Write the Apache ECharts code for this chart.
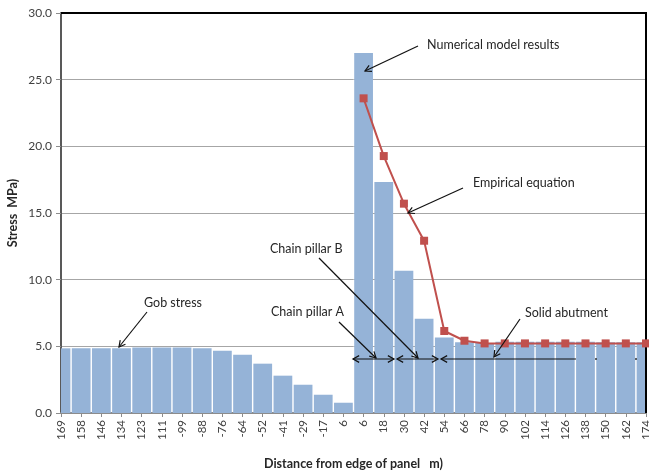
<!DOCTYPE html>
<html>
<head>
<meta charset="utf-8">
<script src="https://cdn.jsdelivr.net/npm/echarts@6/dist/echarts.min.js"></script>
<style>
  html, body { margin: 0; padding: 0; background: #ffffff; }
  #chart { width: 649px; height: 472px; }
</style>
</head>
<body>
<div id="chart"></div>
<script>
// Distance labels along the section (m)
const categories = ['169', '158', '146', '134', '123', '111', '-99', '-88', '-76', '-64',
  '-52', '-41', '-29', '-17', '6', '6', '18', '30', '42', '54',
  '66', '78', '90', '102', '114', '126', '138', '150', '162', '174'];

// Vertical stress from the numerical model (MPa)
const numericalStress = [4.85, 4.85, 4.85, 4.85, 4.92, 4.92, 4.92, 4.85, 4.67, 4.37,
  3.70, 2.80, 2.12, 1.37, 0.77, 27.0, 17.33, 10.67, 7.07, 5.67,
  5.30, 5.25, 5.35, 5.35, 5.35, 5.35, 5.35, 5.30, 5.30, 5.30];

// Stress from the empirical equation (MPa), defined from the pillar edge onwards
const empiricalStress = [null, null, null, null, null, null, null, null, null, null,
  null, null, null, null, null, 23.6, 19.27, 15.7, 12.92, 6.15,
  5.42, 5.22, 5.22, 5.22, 5.22, 5.22, 5.22, 5.22, 5.22, 5.22];

const FONT = 'Lato, "Liberation Sans", sans-serif';
const INK = '#262626';

const chart = echarts.init(document.getElementById('chart'), null, { renderer: 'canvas' });

// Open "V" arrowhead at (x, y) for a shaft coming from (fx, fy)
function arrowHead(x, y, fx, fy, len, spread) {
  const a = Math.atan2(y - fy, x - fx);
  return [
    [x - len * Math.cos(a - spread), y - len * Math.sin(a - spread)],
    [x, y],
    [x - len * Math.cos(a + spread), y - len * Math.sin(a + spread)]
  ];
}

function arrow(x1, y1, x2, y2, both) {
  const style = { stroke: '#111', lineWidth: 1.2, fill: null };
  const els = [
    { type: 'line', shape: { x1, y1, x2, y2 }, style, z: 30 },
    { type: 'polyline', shape: { points: arrowHead(x2, y2, x1, y1, 7, 0.5) }, style, z: 30 }
  ];
  if (both) {
    els.push({ type: 'polyline', shape: { points: arrowHead(x1, y1, x2, y2, 7, 0.5) }, style, z: 30 });
  }
  return els;
}

function note(text, x, y) {
  return {
    type: 'text', x, y, z: 30,
    style: { text, fill: INK, font: '12.5px ' + FONT, textVerticalAlign: 'middle', textAlign: 'left' }
  };
}

const annotations = [].concat(
  note('Numerical model results', 427, 45),
  arrow(418, 46, 365, 71),
  note('Empirical equation', 473, 183),
  arrow(463, 188, 408, 213),
  note('Chain pillar B', 270, 249),
  arrow(319, 258, 418, 358),
  note('Chain pillar A', 271, 312),
  arrow(339, 322, 376, 358),
  note('Solid abutment', 525, 313),
  arrow(520, 319, 494, 357),
  note('Gob stress', 144, 303),
  arrow(147, 312, 119, 347),
  // spans of the two chain pillars and the solid abutment
  arrow(353, 359, 394, 359, true),
  arrow(397, 359, 438, 359, true),
  arrow(576, 359, 441, 359),
  [{ type: 'line', shape: { x1: 595, y1: 359, x2: 597, y2: 359 }, style: { stroke: '#333', lineWidth: 1.5 }, z: 30 },
   { type: 'line', shape: { x1: 635, y1: 359, x2: 637, y2: 359 }, style: { stroke: '#333', lineWidth: 1.5 }, z: 30 }],
  // top and right frame of the plot area
  [{ type: 'line', shape: { x1: 61, y1: 13, x2: 647, y2: 13 }, style: { stroke: '#000', lineWidth: 2 }, z: 10 },
   { type: 'line', shape: { x1: 646, y1: 13, x2: 646, y2: 413 }, style: { stroke: '#000', lineWidth: 2 }, z: 10 }]
);

// Bars centred on the category ticks, trimmed to the plot rectangle so the
// first and last columns show as half columns at the frame edges.
function renderColumn(params, api) {
  const idx = api.value(0);
  const val = api.value(1);
  const top = api.coord([idx, val]);
  const base = api.coord([idx, 0]);
  const w = api.size([1, 0])[0] * 0.93;
  const cs = params.coordSys;
  const shape = echarts.graphic.clipRectByRect(
    { x: top[0] - w / 2, y: top[1], width: w, height: base[1] - top[1] },
    { x: cs.x, y: cs.y, width: cs.width, height: cs.height }
  );
  if (!shape) return null;
  return { type: 'rect', shape, style: api.style() };
}

chart.setOption({
  animation: false,
  backgroundColor: '#ffffff',
  textStyle: { fontFamily: FONT },
  grid: { left: 61, top: 13, right: 3, bottom: 59, containLabel: false, outerBoundsMode: 'none' },
  xAxis: {
    type: 'category',
    data: categories,
    boundaryGap: false,
    name: 'Distance from edge of panel   m)',
    nameLocation: 'middle',
    nameGap: 44,
    nameMoveOverlap: false,
    nameTextStyle: { fontFamily: FONT, fontSize: 12.5, fontWeight: 'bold', color: INK },
    axisLine: { show: true, lineStyle: { color: '#8c8c8c', width: 2 } },
    axisTick: { show: true, inside: false, length: 4, alignWithLabel: true, interval: 0, lineStyle: { color: '#8c8c8c' } },
    axisLabel: { interval: 0, rotate: 90, margin: 7, fontFamily: FONT, fontSize: 11.5, color: '#404040' },
    splitLine: { show: false }
  },
  yAxis: {
    type: 'value',
    min: 0,
    max: 30,
    interval: 5,
    name: 'Stress  MPa)',
    nameLocation: 'middle',
    nameGap: 42,
    nameMoveOverlap: false,
    nameTextStyle: { fontFamily: FONT, fontSize: 12.5, fontWeight: 'bold', color: INK },
    axisLine: { show: true, lineStyle: { color: '#595959', width: 2 } },
    axisTick: { show: true, inside: false, length: 5, lineStyle: { color: '#8c8c8c' } },
    axisLabel: { margin: 9, fontFamily: FONT, fontSize: 12, color: '#404040', formatter: v => v.toFixed(1) },
    splitLine: { show: true, lineStyle: { color: '#a6a6a6', width: 1 } }
  },
  series: [
    {
      name: 'Numerical model results',
      type: 'custom',
      data: numericalStress.map((v, i) => [i, v]),
      encode: { x: 0, y: 1 },
      renderItem: renderColumn,
      itemStyle: { color: '#95b3d7' },
      z: 2
    },
    {
      name: 'Empirical equation',
      type: 'line',
      data: empiricalStress,
      symbol: 'rect',
      symbolSize: 8,
      connectNulls: false,
      clip: false,
      lineStyle: { color: '#c0504d', width: 2 },
      itemStyle: { color: '#c0504d' },
      z: 20
    }
  ],
  graphic: { elements: annotations }
});
</script>
</body>
</html>
